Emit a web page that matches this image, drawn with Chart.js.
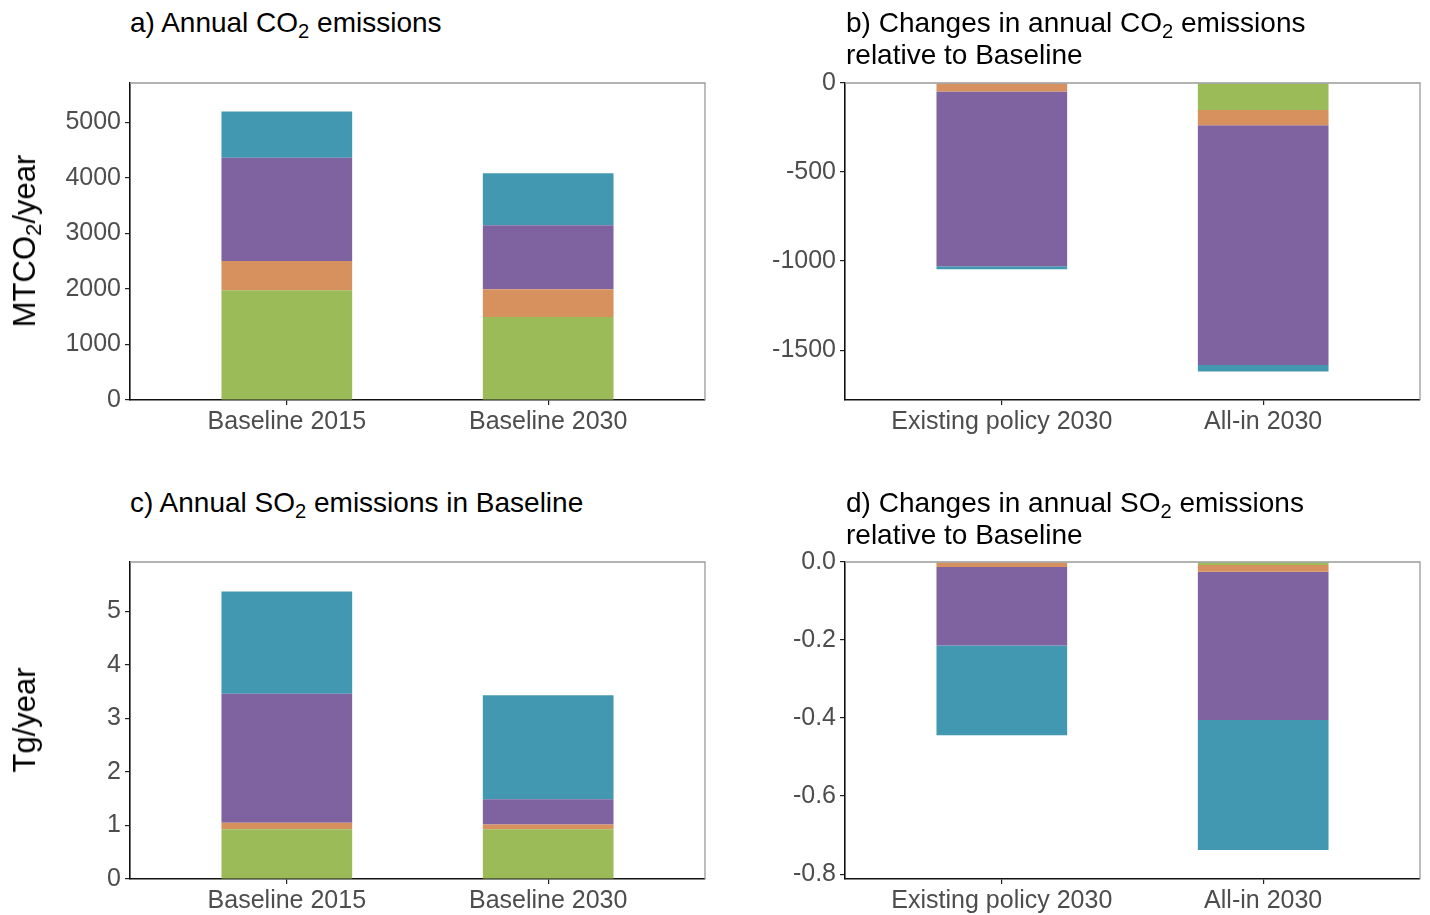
<!DOCTYPE html>
<html>
<head>
<meta charset="utf-8">
<script src="https://cdn.jsdelivr.net/npm/chart.js@4.4.1/dist/chart.umd.min.js"></script>
<style>
  html, body { margin: 0; padding: 0; background: #fff; width: 1430px; height: 915px; overflow: hidden; }
  canvas { position: absolute; }
  .title { position: absolute; font-family: "Liberation Sans", Arial, sans-serif; font-size: 28px; line-height: 32px; color: #000; white-space: nowrap; z-index: 2; }
  .ylab { position: absolute; font-family: "Liberation Sans", Arial, sans-serif; font-size: 31px; line-height: 36px; color: #000; white-space: nowrap; transform: translate(-50%, -50%) rotate(-90deg); z-index: 2; }
  sub { font-size: 0.72em; vertical-align: -0.28em; line-height: 0; }
</style>
</head>
<body>
<canvas id="panelA"></canvas>
<canvas id="panelB"></canvas>
<canvas id="panelC"></canvas>
<canvas id="panelD"></canvas>

<div class="title" style="left:130px; top:7px;">a) Annual CO<sub>2</sub> emissions</div>
<div class="title" style="left:846px; top:7px;">b) Changes in annual CO<sub>2</sub> emissions<br>relative to Baseline</div>
<div class="title" style="left:130px; top:487px;">c) Annual SO<sub>2</sub> emissions in Baseline</div>
<div class="title" style="left:846px; top:487px;">d) Changes in annual SO<sub>2</sub> emissions<br>relative to Baseline</div>
<div class="ylab" style="left:25px; top:241px;">MTCO<sub>2</sub>/year</div>
<div class="ylab" style="left:25px; top:720px;">Tg/year</div>

<script>
// Categories
const baselineCats = ['Baseline 2015', 'Baseline 2030'];
const policyCats = ['Existing policy 2030', 'All-in 2030'];

// Segment colours (bottom to top of each stack)
const segColors = ['#9bbb59', '#d7915e', '#7f63a0', '#4298b0'];
const segNames = ['green', 'orange', 'purple', 'teal'];

// a) Annual CO2 emissions, MtCO2/year
const co2Green = [1975, 1495];
const co2Orange = [525, 500];
const co2Purple = [1860, 1150];
const co2Teal = [830, 935];

// b) Change in annual CO2 emissions relative to Baseline
const dCo2Green = [0, -152];
const dCo2Orange = [-48, -85];
const dCo2Purple = [-981, -1347];
const dCo2Teal = [-17, -36];

// c) Annual SO2 emissions in Baseline, Tg/year
const so2Green = [0.93, 0.93];
const so2Orange = [0.12, 0.09];
const so2Purple = [2.41, 0.47];
const so2Teal = [1.91, 1.94];

// d) Change in annual SO2 emissions relative to Baseline
const dSo2Green = [0, -0.008];
const dSo2Orange = [-0.013, -0.017];
const dSo2Purple = [-0.201, -0.380];
const dSo2Teal = [-0.230, -0.333];

// Tick values
const co2Ticks = [0, 1000, 2000, 3000, 4000, 5000];
const dCo2Ticks = [-1500, -1000, -500, 0];
const so2Ticks = [0, 1, 2, 3, 4, 5];
const dSo2Ticks = [-0.8, -0.6, -0.4, -0.2, 0];

// Space around each plot box for tick marks and labels
const FRAME = { L: 90, T: 20, R: 10, B: 48 };
const tickFont = { family: '"Liberation Sans", Arial, sans-serif', size: 25 };
const tickColor = '#4d4d4d';

// Gray panel border on the top and right sides
const framePlugin = {
  id: 'panelFrame',
  afterDatasetsDraw(chart) {
    const { ctx, chartArea: a } = chart;
    ctx.save();
    ctx.strokeStyle = '#9a9a9a';
    ctx.lineWidth = 1.3;
    ctx.beginPath();
    ctx.moveTo(a.left, a.top);
    ctx.lineTo(a.right, a.top);
    ctx.lineTo(a.right, a.bottom);
    ctx.stroke();
    ctx.restore();
  }
};

function axisCommon() {
  return {
    type: 'linear',
    stacked: true,
    offset: false,
    z: 1,
    grid: { offset: false, drawOnChartArea: false, drawTicks: true, tickLength: 5, color: '#222', lineWidth: 1.2 },
    border: { display: true, color: '#111', width: 1.6 },
  };
}

function panel(id, box, cats, series, yMin, yMax, yTicks, decimals) {
  const cv = document.getElementById(id);
  cv.width = box.right - box.left + FRAME.L + FRAME.R;
  cv.height = box.bottom - box.top + FRAME.T + FRAME.B;
  cv.style.left = (box.left - FRAME.L) + 'px';
  cv.style.top = (box.top - FRAME.T) + 'px';

  const datasets = series.map((vals, k) => ({
    label: segNames[k],
    data: vals.map((v, i) => ({ x: i + 1, y: v })),
    backgroundColor: segColors[k],
    borderWidth: 0,
    categoryPercentage: 1,
    barPercentage: 0.5
  }));

  new Chart(cv, {
    type: 'bar',
    data: { datasets },
    options: {
      responsive: false,
      animation: false,
      devicePixelRatio: 1,
      layout: { padding: { left: 0, top: FRAME.T, right: FRAME.R, bottom: 0 } },
      plugins: { legend: { display: false }, tooltip: { enabled: false } },
      scales: {
        x: Object.assign(axisCommon(), {
          min: 0.4,
          max: 2.6,
          afterBuildTicks: s => { s.ticks = cats.map((c, i) => ({ value: i + 1 })); },
          afterFit: s => { s.height = FRAME.B; },
          ticks: {
            callback: v => cats[Math.round(v) - 1],
            color: tickColor, font: tickFont, padding: 2,
            maxRotation: 0, autoSkip: false
          }
        }),
        y: Object.assign(axisCommon(), {
          min: yMin,
          max: yMax,
          afterBuildTicks: s => { s.ticks = yTicks.map(v => ({ value: v })); },
          afterFit: s => { s.width = FRAME.L; },
          ticks: {
            callback: v => Number(v).toFixed(decimals),
            color: tickColor, font: tickFont, padding: 4
          }
        })
      }
    },
    plugins: [framePlugin]
  });
}

panel('panelA', { left: 130, top: 83, right: 705, bottom: 400 }, baselineCats,
      [co2Green, co2Orange, co2Purple, co2Teal], 0, 5705, co2Ticks, 0);
panel('panelB', { left: 845, top: 83, right: 1420, bottom: 400 }, policyCats,
      [dCo2Green, dCo2Orange, dCo2Purple, dCo2Teal], -1780, 0, dCo2Ticks, 0);
panel('panelC', { left: 130, top: 562, right: 705, bottom: 879 }, baselineCats,
      [so2Green, so2Orange, so2Purple, so2Teal], 0, 5.92, so2Ticks, 0);
panel('panelD', { left: 845, top: 562, right: 1420, bottom: 879 }, policyCats,
      [dSo2Green, dSo2Orange, dSo2Purple, dSo2Teal], -0.8125, 0, dSo2Ticks, 1);
</script>
</body>
</html>
